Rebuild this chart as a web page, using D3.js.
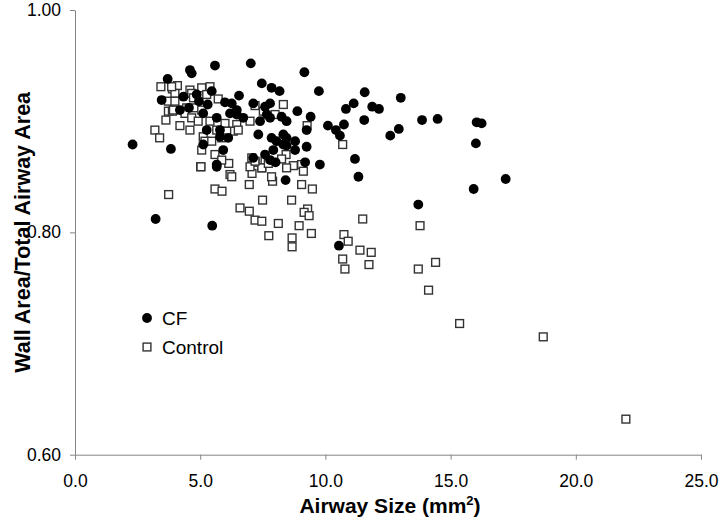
<!DOCTYPE html>
<html>
<head>
<meta charset="utf-8">
<script src="https://cdn.jsdelivr.net/npm/d3@7/dist/d3.min.js"></script>
<style>
  html, body { margin: 0; padding: 0; background: #fff; }
  svg { display: block; font-family: "Liberation Sans", Arial, sans-serif; }
</style>
</head>
<body>
<svg id="chart" width="720" height="523"></svg>
<script>
// ---- data ----
const cfX = [2.30,3.22,5.48,3.70,3.46,4.19,3.83,5.66,8.01,9.19,9.78,11.18,8.41,11.32,10.54,
  11.57,13.01,11.13,10.82,11.87,12.14,11.55,13.86,14.48,16.04,16.24,10.74,10.10,10.42,10.58,
  12.93,12.59,16.01,17.20,15.92,13.71,9.16,9.74,8.17,8.88,9.41,9.25,8.45,8.79,8.45,8.79,9.25,
  4.59,4.66,5.59,7.02,7.46,7.85,6.55,4.33,4.86,5.46,5.99,6.26,6.46,7.79,7.59,7.12,5.12,5.66,
  6.19,6.46,6.72,7.39,7.66,7.79,8.25,8.45,7.32,7.85,8.05,8.32,5.79,5.79,5.12,5.92,7.12,7.92,
  7.59,5.66,6.12,7.79,8.32,5.26,4.55,4.95,5.30];
const cfY = [0.879,0.812,0.806,0.938,0.919,0.910,0.875,0.861,0.863,0.863,0.861,0.866,0.847,0.850,0.788,
  0.926,0.921,0.916,0.911,0.913,0.911,0.901,0.901,0.902,0.899,0.898,0.897,0.896,0.892,0.887,
  0.893,0.887,0.880,0.848,0.839,0.825,0.944,0.927,0.927,0.909,0.904,0.892,0.885,0.882,0.878,0.874,0.877,
  0.946,0.943,0.950,0.952,0.934,0.930,0.923,0.922,0.924,0.927,0.917,0.916,0.910,0.916,0.913,0.916,0.907,0.903,
  0.907,0.906,0.903,0.900,0.906,0.903,0.904,0.900,0.888,0.885,0.882,0.879,0.892,0.886,0.879,0.874,0.867,0.874,
  0.870,0.859,0.885,0.865,0.888,0.892,0.912,0.918,0.915];

const ctrlX = [3.43,3.89,4.09,3.73,3.99,3.73,3.89,3.63,3.19,3.38,4.19,
  5.02,6.14,6.19,3.74,5.59,5.87,
  7.19,7.59,8.72,9.05,8.45,7.07,7.46,9.12,7.89,6.96,9.05,9.48,7.49,8.65,6.59,6.96,7.19,7.46,8.12,
  9.29,9.15,9.35,8.95,7.74,8.67,9.44,8.67,11.49,10.74,10.91,11.38,10.69,10.78,11.83,11.74,
  13.78,13.71,14.40,14.12,15.36,18.70,22.00,10.69,9.27,8.43,8.25,
  3.86,4.59,5.06,5.39,5.26,4.66,
  4.73,5.72,3.99,4.46,4.79,5.06,7.19,7.99,8.32,7.52,4.39,4.66,4.92,5.39,5.99,6.46,6.99,6.32,6.52,
  6.06,5.66,5.12,4.59,5.86,5.19,5.46,3.93,5.06,5.59,5.86,5.03,6.26,6.99,7.06,7.46,7.19,7.72,7.85];
const ctrlY = [0.931,0.929,0.932,0.918,0.925,0.909,0.909,0.901,0.892,0.885,0.896,
  0.859,0.862,0.852,0.834,0.839,0.837,
  0.863,0.864,0.860,0.861,0.858,0.853,0.858,0.855,0.846,0.843,0.843,0.839,0.829,0.829,0.822,0.819,0.811,0.810,0.808,
  0.821,0.818,0.815,0.806,0.797,0.795,0.799,0.787,0.812,0.798,0.792,0.784,0.776,0.767,0.782,0.771,
  0.806,0.767,0.773,0.748,0.718,0.706,0.632,0.879,0.896,0.870,0.866,
  0.931,0.928,0.930,0.931,0.924,0.925,
  0.921,0.920,0.918,0.912,0.912,0.910,0.914,0.906,0.915,0.909,0.907,0.903,0.900,0.900,0.898,0.897,0.900,0.891,0.892,
  0.891,0.892,0.886,0.892,0.885,0.882,0.882,0.910,0.874,0.870,0.865,0.859,0.850,0.859,0.867,0.858,0.864,0.862,0.850];

const xTicks = [0, 5, 10, 15, 20, 25];
const yTicks = [0.60, 0.80, 1.00];
const seriesNames = ["CF", "Control"];

// ---- chart ----
const svg = d3.select("#chart");
const x = d3.scaleLinear().domain([0, 25]).range([75, 701]);
const y = d3.scaleLinear().domain([0.6, 1.0]).range([454.7, 10]);
const axisColor = "#868686";

const gx = svg.append("g").attr("transform", `translate(0,${y(0.6)})`)
  .call(d3.axisBottom(x).tickValues(xTicks).tickFormat(d3.format(".1f")).tickSize(5).tickPadding(15).tickSizeOuter(0));
const gy = svg.append("g").attr("transform", `translate(${x(0)},0)`)
  .call(d3.axisLeft(y).tickValues(yTicks).tickFormat(d3.format(".2f")).tickSize(5).tickPadding(9).tickSizeOuter(0));
[gx, gy].forEach(g => {
  g.select(".domain").attr("stroke", axisColor).attr("stroke-width", 1);
  g.selectAll(".tick line").attr("stroke", axisColor).attr("stroke-width", 1);
  g.selectAll(".tick text").attr("fill", "#000").style("font-size", "17.5px")
    .style("font-family", "'Liberation Sans', Arial, sans-serif");
});

// Control squares
const sq = 7.8;
svg.append("g").selectAll("rect").data(d3.range(ctrlX.length)).join("rect")
  .attr("x", i => x(ctrlX[i]) - sq / 2).attr("y", i => y(ctrlY[i]) - sq / 2)
  .attr("width", sq).attr("height", sq)
  .attr("fill", "#fff").attr("stroke", "#333").attr("stroke-width", 1.4);

// CF circles
svg.append("g").selectAll("circle").data(d3.range(cfX.length)).join("circle")
  .attr("cx", i => x(cfX[i])).attr("cy", i => y(cfY[i])).attr("r", 4.9)
  .attr("fill", "#000");

// axis titles
svg.append("text").attr("x", 390).attr("y", 513).attr("text-anchor", "middle")
  .style("font-weight", "bold").style("font-size", "21px")
  .html('Airway Size (mm<tspan dy="-8" font-size="13px">2</tspan><tspan dy="8">)</tspan>');
svg.append("text").attr("transform", `translate(30,${y(0.8)}) rotate(-90)`).attr("text-anchor", "middle")
  .style("font-weight", "bold").style("font-size", "21.5px")
  .text("Wall Area/Total Airway Area");

// legend
const leg = svg.append("g");
leg.append("circle").attr("cx", 147).attr("cy", 318).attr("r", 4.9).attr("fill", "#000");
leg.append("rect").attr("x", 147 - sq / 2).attr("y", 347 - sq / 2).attr("width", sq).attr("height", sq)
  .attr("fill", "#fff").attr("stroke", "#333").attr("stroke-width", 1.4);
leg.append("text").attr("x", 162).attr("y", 325).style("font-size", "19px").text(seriesNames[0]);
leg.append("text").attr("x", 162).attr("y", 354).style("font-size", "19px").text(seriesNames[1]);
</script>
</body>
</html>
